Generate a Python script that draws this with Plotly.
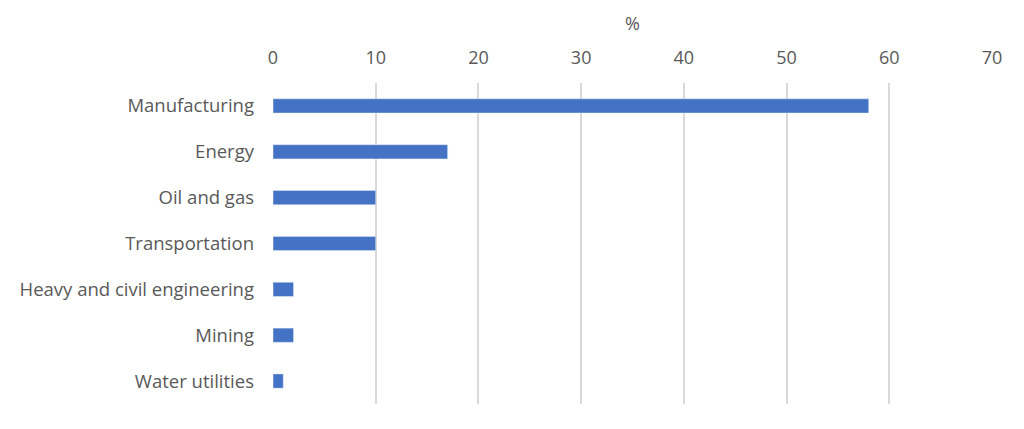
import plotly.graph_objects as go

categories = ["Manufacturing", "Energy", "Oil and gas", "Transportation",
              "Heavy and civil engineering", "Mining", "Water utilities"]
values = [58, 17, 10, 10, 2, 2, 1]
tick_vals = [0, 10, 20, 30, 40, 50, 60, 70]

fig = go.Figure(go.Bar(
    x=values, y=categories, orientation="h",
    marker=dict(color="#4472C4"),
    width=0.31,
))

font_color = "#595959"
fig.update_layout(
    width=1024, height=429,
    margin=dict(l=265, r=40, t=75, b=33),
    paper_bgcolor="white", plot_bgcolor="white",
    font=dict(family="Open Sans", size=18, color=font_color),
    showlegend=False,
    xaxis=dict(
        side="top", range=[0, 70], tickvals=tick_vals,
        showgrid=True, gridcolor="#d9d9d9", gridwidth=1.5,
        zeroline=False, showline=False, ticks="",
        ticklabelstandoff=14,
        title=dict(text="%", font=dict(size=18, color=font_color), standoff=10),
        tickfont=dict(size=18, color=font_color),
        fixedrange=True,
    ),
    yaxis=dict(
        autorange="reversed", showgrid=False, zeroline=False,
        ticks="", ticklabelstandoff=18,
        tickfont=dict(size=18.5, color=font_color),
        fixedrange=True,
    ),
)

fig.write_html("out.html")
